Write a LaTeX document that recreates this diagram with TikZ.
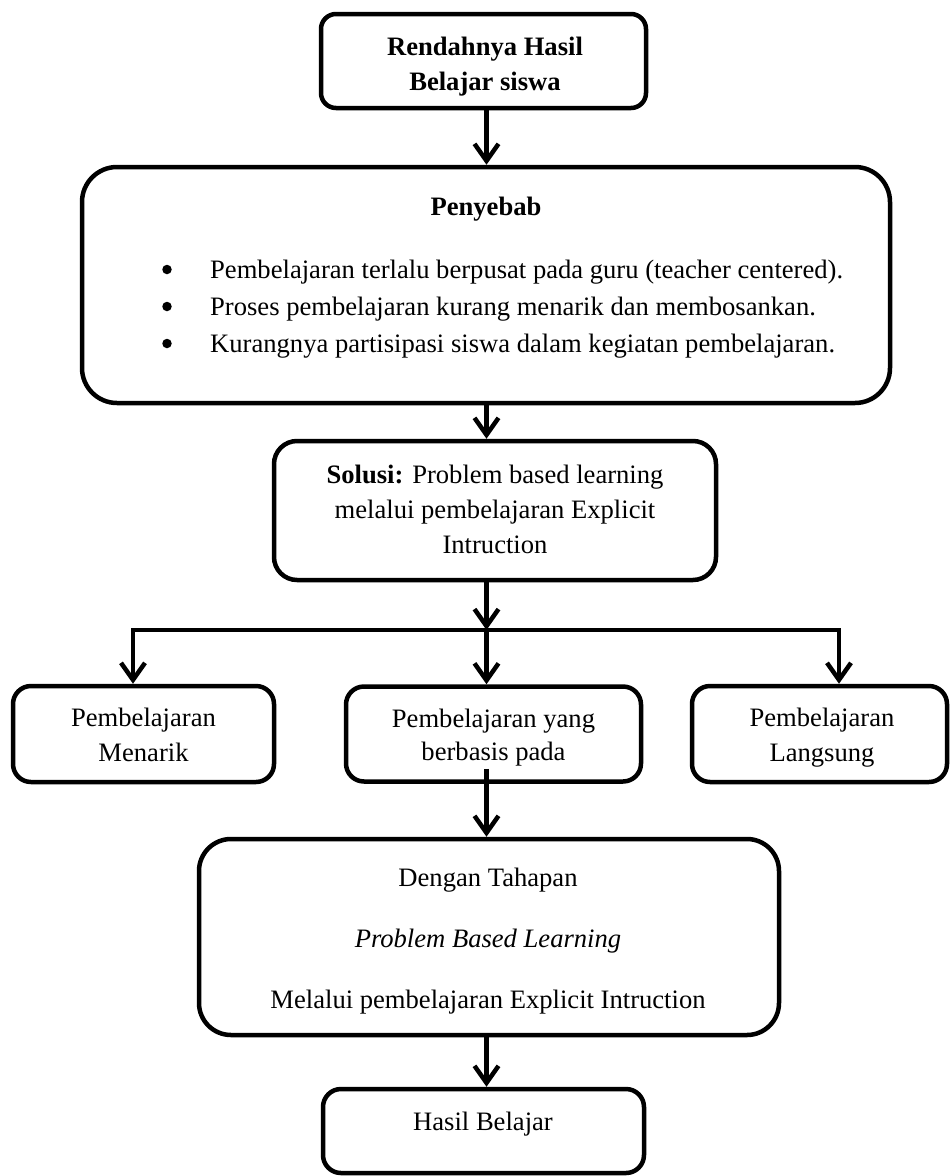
\documentclass[tikz,border=0pt]{standalone}
\usepackage{fontspec}
\setmainfont{Liberation Serif}
\usetikzlibrary{arrows.meta,calc}
\begin{document}
\begin{tikzpicture}[x=1pt,y=-1pt,
  box/.style={draw, line width=4.5pt, fill=white, inner sep=0pt},
  txt/.style={font=\fontsize{26.6}{33}\selectfont, inner sep=0pt, anchor=base},
  bul/.style={circle, fill=black, inner sep=0pt, minimum size=9.5pt},
  lft/.style={font=\fontsize{26.6}{33}\selectfont, inner sep=0pt, anchor=base west},
  arr/.style={line width=4.5pt, line join=miter, -{Straight Barb[length=17pt,width=24pt,line join=miter]}},
]
\useasboundingbox (0,0) rectangle (950,1176);

% boxes
\node[box, rounded corners=15pt, minimum width=325pt, minimum height=94pt] (b1) at (483.5,61) {};
\node[box, rounded corners=35pt, minimum width=808pt, minimum height=236pt] (b2) at (486,285) {};
\node[box, rounded corners=23pt, minimum width=442pt, minimum height=139pt] (b3) at (495,510.5) {};
\node[box, rounded corners=18pt, minimum width=261pt, minimum height=96pt] (bl) at (143.5,734) {};
\node[box, rounded corners=18pt, minimum width=295pt, minimum height=95pt] (bm) at (493.5,734) {};
\node[box, rounded corners=18pt, minimum width=255pt, minimum height=96pt] (br) at (819.5,734) {};
\node[box, rounded corners=32pt, minimum width=580pt, minimum height=196pt] (b5) at (489,937) {};
\node[box, rounded corners=18pt, minimum width=321pt, minimum height=84pt] (b6) at (483.5,1131) {};

% texts
\node[txt] (t1a) at (485,55) {\bfseries Rendahnya Hasil};
\node[txt] (t1b) at (485,90) {\bfseries Belajar siswa};

\node[txt] (t2) at (486,215) {\bfseries Penyebab};
\node[bul] (u1) at (167,269.5) {};
\node[bul] (u2) at (167,306.5) {};
\node[bul] (u3) at (167,343.5) {};
\node[lft] (p1) at (210,278) {Pembelajaran terlalu berpusat pada guru (teacher centered).};
\node[lft] (p2) at (210,315) {Proses pembelajaran kurang menarik dan membosankan.};
\node[lft] (p3) at (210,352) {Kurangnya partisipasi siswa dalam kegiatan pembelajaran.};

\node[txt] (t3a) at (495,483) {{\bfseries Solusi:} Problem based learning};
\node[txt] (t3b) at (495,518) {melalui pembelajaran Explicit};
\node[txt] (t3c) at (495,553) {Intruction};

\node[txt] (tla) at (143.5,726) {Pembelajaran};
\node[txt] (tlb) at (143.5,761) {Menarik};
\node[txt] (tma) at (493.5,727) {Pembelajaran yang};
\node[txt] (tmb) at (493.5,760) {berbasis pada};
\node[txt] (tra) at (822,726) {Pembelajaran};
\node[txt] (trb) at (822,761) {Langsung};

\node[txt] (t5a) at (488,886) {Dengan Tahapan};
\node[txt] (t5b) at (488,947) {\itshape Problem Based Learning};
\node[txt] (t5c) at (488,1008) {Melalui pembelajaran Explicit Intruction};

\node[txt] (t6) at (483,1130) {Hasil Belajar};

% connectors
\coordinate (sp) at (486.5,0);
\coordinate (jM) at (486.5,630);
\coordinate (jL) at (133,630);
\coordinate (jR) at (839,630);

\draw[arr] (b1.south -| sp) -- (b2.north -| sp);
\draw[arr] (b2.south -| sp) -- (b3.north -| sp);
\draw[arr] (b3.south -| sp) -- (jM);
\draw[arr] (jM) -| (bl.north -| jL);
\draw[arr] (jM) -| (br.north -| jR);
\draw[arr] (jM) -- (bm.north -| sp);
\draw[arr] ($(bm.south -| sp)+(0,-15)$) -- (b5.north -| sp);
\draw[arr] (b5.south -| sp) -- (b6.north -| sp);
\end{tikzpicture}
\end{document}
